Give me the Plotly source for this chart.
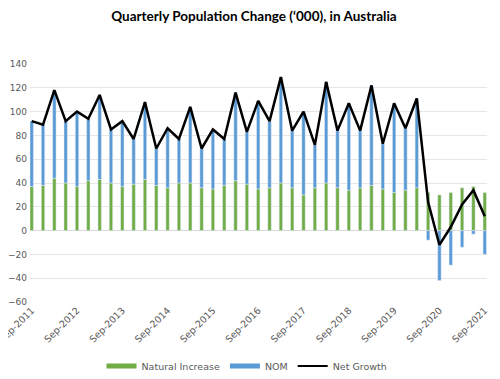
import plotly.graph_objects as go

quarters = []
for yr in range(2011, 2022):
    for m in ["Mar", "Jun", "Sep", "Dec"]:
        quarters.append(f"{m}-{yr}")
quarters = quarters[quarters.index("Sep-2011"):quarters.index("Sep-2021") + 1]

natural_increase = [37, 38, 44, 40, 37, 42, 43, 40, 37, 39,
                    43, 38, 36, 40, 40, 36, 35, 38, 42, 39,
                    35, 36, 40, 36, 30, 36, 40, 36, 34, 36,
                    38, 35, 32, 34, 36, 32, 30, 32, 36, 37,
                    32]
net_growth = [92, 89, 118, 92, 100, 94, 114, 85, 92, 77,
              108, 69, 86, 77, 104, 69, 85, 77, 116, 83,
              109, 92, 129, 84, 100, 72, 125, 84, 107, 84,
              122, 73, 107, 86, 111, 24, -12, 3, 22, 34,
              12]
nom = [n - i for n, i in zip(net_growth, natural_increase)]

tick_labels = [q for q in quarters if q.startswith("Sep")]

GREEN = "#70AD47"
BLUE = "#5B9BD5"
GREY = "#595959"
FONT = "DejaVu Sans, Verdana, sans-serif"

# page body has an 8px default margin; figure is sized/offset to compensate
W, H = 484, 363
OFF = 8

fig = go.Figure()
fig.add_trace(go.Bar(x=quarters, y=natural_increase, name="Natural Increase",
                     marker_color=GREEN, width=0.3, showlegend=False))
fig.add_trace(go.Bar(x=quarters, y=nom, name="NOM",
                     marker_color=BLUE, width=0.3, showlegend=False))
fig.add_trace(go.Scatter(x=quarters, y=net_growth, name="Net Growth", mode="lines",
                         line=dict(color="black", width=2.5), showlegend=False))
# legend-only swatches mimicking Excel's wide legend keys
fig.add_trace(go.Scatter(x=[None], y=[None], mode="lines", name="Natural Increase",
                         line=dict(color=GREEN, width=5)))
fig.add_trace(go.Scatter(x=[None], y=[None], mode="lines", name="NOM",
                         line=dict(color=BLUE, width=5)))
fig.add_trace(go.Scatter(x=[None], y=[None], mode="lines", name="Net Growth",
                         line=dict(color="black", width=2)))

fig.update_layout(
    width=W, height=H,
    barmode="relative",
    paper_bgcolor="white", plot_bgcolor="white",
    margin=dict(l=30 - OFF, r=W - (487 - OFF), t=64 - OFF, b=H - (302 - OFF),
                autoexpand=False),
    title=dict(text="<b>Quarterly Population Change (‘000), in Australia</b>",
               x=(254 - OFF) / W, xanchor="center", xref="container",
               y=1 - (16 - OFF) / H, yanchor="middle", yref="container",
               font=dict(family="Lato", size=13.5, color="black")),
    font=dict(family=FONT, size=9, color=GREY),
    legend=dict(orientation="h", x=(247 - OFF) / W, xanchor="center", xref="container",
                y=1 - (366 - OFF) / H, yanchor="middle", yref="container",
                font=dict(family=FONT, size=9.5, color=GREY),
                itemwidth=30, tracegroupgap=0),
    showlegend=True,
)
fig.update_xaxes(
    type="category", categoryorder="array", categoryarray=quarters,
    range=[-0.15, 40.2], automargin=False,
    tickmode="array", tickvals=tick_labels, ticktext=tick_labels,
    tickangle=-45, showgrid=False, showline=False, zeroline=False,
    tickfont=dict(family=FONT, size=9.5, color=GREY),
)
fig.update_yaxes(
    range=[-60, 140], dtick=20, tick0=0, automargin=False,
    showgrid=True, gridcolor="#E6E6E6", gridwidth=1,
    zeroline=True, zerolinecolor="#D9D9D9", zerolinewidth=1,
    showline=False, ticklabelstandoff=2,
    tickfont=dict(family=FONT, size=9, color=GREY),
)

fig.write_html("out.html")
